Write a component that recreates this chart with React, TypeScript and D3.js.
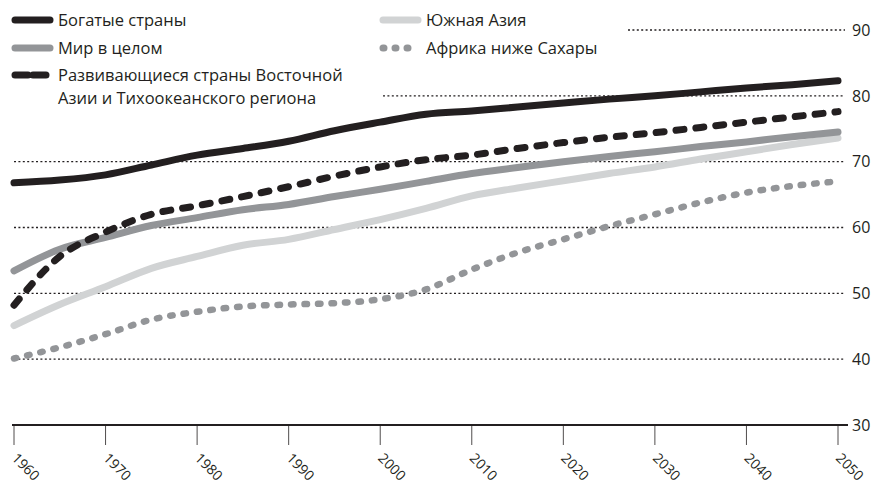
import React from "react";
import * as d3 from "d3";

const years = [1960, 1965, 1970, 1975, 1980, 1985, 1990, 1995, 2000, 2005, 2010, 2015, 2020, 2025, 2030, 2035, 2040, 2045, 2050];
const rich = [66.8, 67.2, 68.0, 69.5, 71.0, 72.0, 73.1, 74.7, 76.0, 77.2, 77.7, 78.3, 78.9, 79.5, 80.0, 80.6, 81.2, 81.7, 82.3];
const world = [53.4, 56.7, 58.5, 60.3, 61.5, 62.7, 63.5, 64.7, 65.8, 67.0, 68.2, 69.1, 70.0, 70.8, 71.5, 72.3, 73.0, 73.8, 74.5];
const eastAsia = [48.2, 55.6, 59.3, 62.0, 63.3, 64.7, 66.2, 67.8, 69.2, 70.3, 71.0, 72.0, 72.9, 73.7, 74.4, 75.2, 76.0, 76.8, 77.6];
const southAsia = [45.1, 48.3, 51.0, 53.8, 55.6, 57.3, 58.2, 59.7, 61.2, 62.9, 64.8, 66.0, 67.1, 68.2, 69.2, 70.4, 71.5, 72.6, 73.6];
const africa = [40.1, 41.8, 43.8, 46.0, 47.2, 48.0, 48.3, 48.5, 49.1, 50.6, 53.6, 56.2, 58.2, 60.2, 62.0, 63.8, 65.3, 66.3, 67.0];
const yTicks = [30, 40, 50, 60, 70, 80, 90];
const xTicks = [1960, 1970, 1980, 1990, 2000, 2010, 2020, 2030, 2040, 2050];

const FONT = "'Open Sans', 'Noto Sans', sans-serif";
const BLACK = "#231f20";
const GRAY = "#939598";
const LIGHT = "#d1d3d4";

export default function App() {
  const W = 876, H = 486;
  const x = d3.scaleLinear().domain([1960, 2050]).range([14, 838]);
  const y = d3.scaleLinear().domain([30, 90]).range([425, 30]);
  const line = (vals: number[]) =>
    d3.line<number>().x((_, i) => x(years[i])).y((v) => y(v)).curve(d3.curveMonotoneX)(vals) || "";

  const gridStart: Record<number, number> = { 90: 628, 80: 383, 70: 14, 60: 14, 50: 14, 40: 14 };

  const series = [
    { vals: southAsia, color: LIGHT, dash: undefined as string | undefined, w: 7 },
    { vals: africa, color: GRAY, dash: "2.5 11", w: 6.5 },
    { vals: world, color: GRAY, dash: undefined, w: 7 },
    { vals: rich, color: BLACK, dash: undefined, w: 7 },
    { vals: eastAsia, color: BLACK, dash: "8 12", w: 7 },
  ];

  const legend = [
    { x: 12, y: 20, color: BLACK, dash: undefined as string | undefined, lines: ["Богатые страны"] },
    { x: 12, y: 48, color: GRAY, dash: undefined, lines: ["Мир в целом"] },
    { x: 12, y: 75, color: BLACK, dash: "13 5", lines: ["Развивающиеся страны Восточной", "Азии и Тихоокеанского региона"] },
    { x: 380, y: 20, color: LIGHT, dash: undefined, lines: ["Южная Азия"] },
    { x: 380, y: 48, color: GRAY, dash: "1 11", lines: ["Африка ниже Сахары"] },
  ];

  return (
    <svg width={W} height={H} style={{ position: "absolute", left: 0, top: 0, background: "#fff" }} fontFamily={FONT}>
      {yTicks.filter((t) => t !== 30).map((t) => (
        <line key={t} x1={gridStart[t]} x2={845} y1={y(t)} y2={y(t)} stroke={BLACK} strokeWidth={1.4} strokeDasharray="2 2.4" />
      ))}
      {yTicks.map((t) => (
        <text key={t} x={852} y={y(t)} dy="0.36em" fontSize={16} fill={BLACK}>{t}</text>
      ))}
      <line x1={12} x2={848} y1={y(30)} y2={y(30)} stroke={BLACK} strokeWidth={2} />
      {xTicks.map((t) => (
        <g key={t}>
          <line x1={x(t)} x2={x(t)} y1={y(30)} y2={y(30) + 20} stroke={BLACK} strokeWidth={0.8} />
          <text transform={`translate(${x(t) - 3},${y(30) + 34}) rotate(45)`} fontSize={14} fill={BLACK}>{t}</text>
        </g>
      ))}
      {series.map((s, i) => (
        <path key={i} d={line(s.vals)} fill="none" stroke={s.color} strokeWidth={s.w} strokeLinecap="round" strokeLinejoin="round" strokeDasharray={s.dash} />
      ))}
      {legend.map((l, i) => (
        <g key={i}>
          <line x1={l.x + 3} x2={l.x + 38} y1={l.y} y2={l.y} stroke={l.color} strokeWidth={7} strokeLinecap="round" strokeDasharray={l.dash} />
          {l.lines.map((t, j) => (
            <text key={j} x={l.x + 46} y={l.y + j * 23} dy="0.35em" fontSize={16.5} fill={BLACK}>{t}</text>
          ))}
        </g>
      ))}
    </svg>
  );
}
